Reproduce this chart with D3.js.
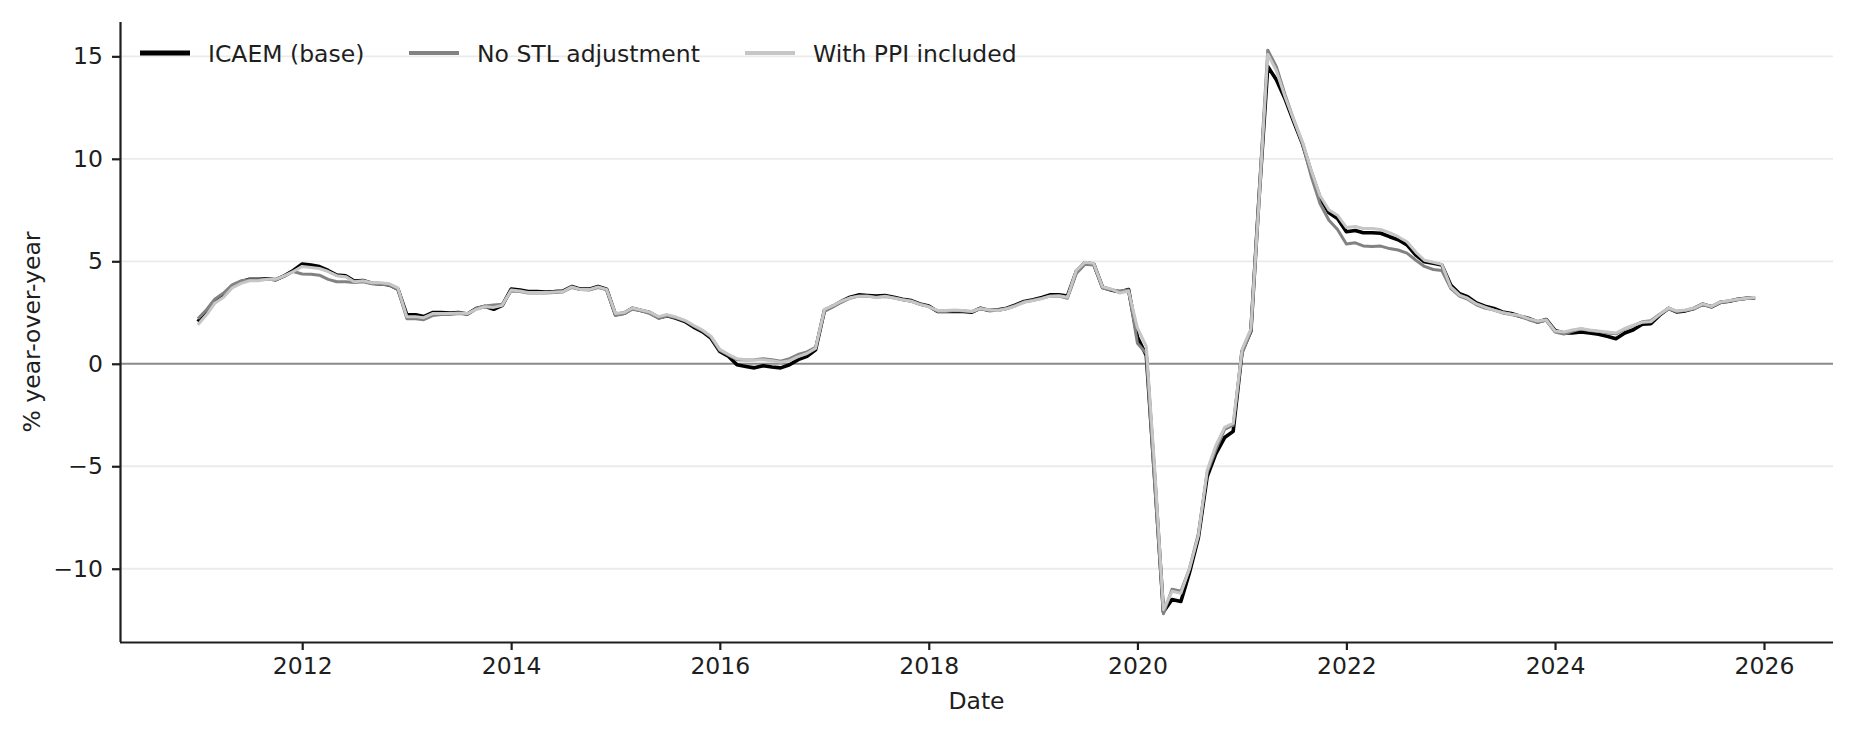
<!DOCTYPE html>
<html>
<head>
<meta charset="utf-8">
<script src="https://cdn.jsdelivr.net/npm/d3@7"></script>
<style>
  html, body { margin: 0; padding: 0; background: #fff; }
  svg { display: block; font-family: "DejaVu Sans", sans-serif; }
</style>
</head>
<body>
<svg id="chart" width="1854" height="730"></svg>
<script>
// Monthly series, Jan 2011 .. Dec 2025
const startYear = 2011;
const nMonths = 180;

const icaemBase = [
  2.05, 2.55, 3.05, 3.35, 3.8, 4.0, 4.12, 4.12, 4.15, 4.1, 4.3, 4.55,
  4.87, 4.82, 4.74, 4.55, 4.33, 4.29, 4.04, 4.06, 3.93, 3.9, 3.85, 3.64,
  2.39, 2.39, 2.3, 2.5, 2.5, 2.47, 2.5, 2.43, 2.7, 2.8, 2.66, 2.85,
  3.64, 3.6, 3.52, 3.52, 3.5, 3.52, 3.55, 3.77, 3.64, 3.64, 3.77, 3.64,
  2.4, 2.47, 2.71, 2.6, 2.5, 2.25, 2.34, 2.22, 2.06, 1.79, 1.57, 1.25,
  0.6, 0.36, -0.05, -0.13, -0.2, -0.1, -0.16, -0.2, -0.05, 0.2, 0.36, 0.68,
  2.6, 2.82, 3.04, 3.25, 3.36, 3.33, 3.3, 3.33, 3.25, 3.15, 3.08, 2.92,
  2.82, 2.55, 2.55, 2.55, 2.55, 2.52, 2.71, 2.6, 2.63, 2.71, 2.87, 3.04,
  3.12, 3.23, 3.36, 3.36, 3.3, 4.5, 4.93, 4.87, 3.73, 3.6, 3.5, 3.62,
  1.3, 0.4, -5.5, -12.1, -11.5, -11.6, -10.2, -8.5, -5.5, -4.4, -3.6, -3.3,
  0.6, 1.6, 8.0, 14.5, 13.86, 12.9, 11.8, 10.7, 9.3, 8.1, 7.37, 7.09,
  6.44, 6.5, 6.39, 6.39, 6.37, 6.2, 6.05, 5.8, 5.3, 4.98, 4.9, 4.82,
  3.84, 3.42, 3.27, 2.97, 2.81, 2.7, 2.53, 2.45, 2.32, 2.21, 2.04, 2.16,
  1.63, 1.5, 1.5, 1.55, 1.5, 1.44, 1.34, 1.22, 1.5, 1.66, 1.93, 1.96,
  2.37, 2.7, 2.53, 2.58, 2.7, 2.91, 2.78, 3.0, 3.05, 3.15, 3.2, 3.22
];

const noStl = [
  2.2, 2.65, 3.15, 3.45, 3.85, 4.05, 4.1, 4.1, 4.12, 4.1, 4.28, 4.5,
  4.38, 4.37, 4.32, 4.12, 4.0, 4.0, 3.96, 4.0, 3.9, 3.88, 3.85, 3.62,
  2.2, 2.2, 2.15, 2.35, 2.4, 2.4, 2.45, 2.42, 2.7, 2.82, 2.87, 2.9,
  3.55, 3.52, 3.45, 3.45, 3.45, 3.48, 3.5, 3.72, 3.62, 3.6, 3.72, 3.62,
  2.35, 2.45, 2.66, 2.58, 2.45, 2.22, 2.34, 2.24, 2.1, 1.85, 1.62, 1.3,
  0.65, 0.42, 0.2, 0.18, 0.2, 0.25, 0.2, 0.12, 0.25, 0.45, 0.58, 0.8,
  2.55, 2.78, 3.0, 3.2, 3.3, 3.3, 3.25, 3.28, 3.22, 3.12, 3.05, 2.9,
  2.8, 2.55, 2.55, 2.6, 2.58, 2.55, 2.68, 2.6, 2.63, 2.7, 2.85, 3.02,
  3.1, 3.2, 3.3, 3.3, 3.2, 4.4, 4.85, 4.82, 3.7, 3.6, 3.55, 3.6,
  1.0, 0.5, -5.8, -12.2, -11.0, -11.1, -10.0, -8.3, -5.3, -4.2, -3.2, -3.0,
  0.5, 1.6, 8.2, 15.3, 14.5, 13.1, 11.9, 10.7, 9.1, 7.8, 7.0, 6.55,
  5.84, 5.9, 5.75, 5.72, 5.74, 5.62, 5.55, 5.4, 5.05, 4.75, 4.6, 4.55,
  3.68, 3.3, 3.15, 2.88, 2.72, 2.62, 2.48, 2.4, 2.3, 2.15, 2.02, 2.12,
  1.55, 1.45, 1.58, 1.7, 1.62, 1.58, 1.5, 1.46, 1.7, 1.86, 2.05, 2.1,
  2.42, 2.68, 2.55, 2.6, 2.68, 2.88, 2.78, 2.98, 3.05, 3.12, 3.18, 3.2
];

const withPpi = [
  1.9, 2.4, 2.95, 3.25, 3.7, 3.92, 4.05, 4.05, 4.12, 4.12, 4.3, 4.5,
  4.75, 4.7, 4.65, 4.5, 4.3, 4.25, 4.0, 4.05, 3.95, 3.95, 3.9, 3.7,
  2.3, 2.3, 2.25, 2.45, 2.45, 2.45, 2.48, 2.45, 2.65, 2.78, 2.75, 2.85,
  3.6, 3.55, 3.48, 3.48, 3.48, 3.5, 3.52, 3.75, 3.62, 3.62, 3.75, 3.62,
  2.45, 2.5, 2.72, 2.62, 2.52, 2.3, 2.4, 2.28, 2.12, 1.88, 1.65, 1.35,
  0.7, 0.45, 0.25, 0.2, 0.18, 0.2, 0.15, 0.08, 0.15, 0.35, 0.5, 0.75,
  2.65, 2.85, 3.05, 3.22, 3.3, 3.3, 3.22, 3.3, 3.2, 3.12, 3.05, 2.9,
  2.78, 2.6, 2.6, 2.62, 2.6, 2.55, 2.7, 2.62, 2.6, 2.68, 2.82, 3.0,
  3.08, 3.18, 3.3, 3.32, 3.25, 4.55, 4.95, 4.9, 3.75, 3.65, 3.45, 3.55,
  1.75, 0.85, -5.0, -12.0, -11.1, -11.2, -10.0, -8.4, -5.2, -4.0, -3.1, -2.9,
  0.7, 1.7, 7.8, 15.1, 14.3, 13.0, 11.9, 10.8, 9.4, 8.2, 7.5, 7.25,
  6.65, 6.7, 6.6, 6.6, 6.55, 6.4, 6.2, 5.95, 5.45, 5.05, 4.95, 4.85,
  3.75, 3.35, 3.2, 2.92, 2.76, 2.62, 2.5, 2.42, 2.35, 2.2, 2.08, 2.15,
  1.6, 1.55, 1.65, 1.72, 1.65, 1.6, 1.55, 1.5, 1.72, 1.88, 2.02, 2.05,
  2.4, 2.72, 2.58, 2.62, 2.72, 2.92, 2.8, 3.02, 3.08, 3.15, 3.2, 3.25
];

const seriesNames = ["ICAEM (base)", "No STL adjustment", "With PPI included"];
const yTicks = [-10, -5, 0, 5, 10, 15];
const xTickYears = [2012, 2014, 2016, 2018, 2020, 2022, 2024, 2026];

// ---- layout ----
const W = 1854, H = 730;
const margin = { left: 120, right: 21, top: 22, bottom: 88 };
const plotL = margin.left, plotR = W - margin.right;
const plotT = margin.top, plotB = H - margin.bottom;

const dates = d3.range(nMonths).map(i => new Date(startYear, i, 1));
const allSeries = [icaemBase, noStl, withPpi];
const styles = [
  { color: "#000000", width: 3.6, legendWidth: 4.8 },
  { color: "#828282", width: 3.0, legendWidth: 3.8 },
  { color: "#c6c6c6", width: 3.0, legendWidth: 3.8 }
];

// matplotlib-like 5% margins
const tExt = d3.extent(dates).map(d => +d);
const tPad = (tExt[1] - tExt[0]) * 0.05;
const allVals = allSeries.flat();
const vExt = d3.extent(allVals);
const vPad = (vExt[1] - vExt[0]) * 0.05;

const x = d3.scaleTime()
  .domain([new Date(tExt[0] - tPad), new Date(tExt[1] + tPad)])
  .range([plotL, plotR]);
const y = d3.scaleLinear()
  .domain([vExt[0] - vPad, vExt[1] + vPad])
  .range([plotB, plotT]);

const svg = d3.select("#chart");
const textColor = "#1e1e1e";
const fontSize = 23.5;

// gridlines
svg.append("g")
  .selectAll("line")
  .data(yTicks.filter(t => t !== 0))
  .join("line")
  .attr("x1", plotL).attr("x2", plotR)
  .attr("y1", d => y(d)).attr("y2", d => y(d))
  .attr("stroke", "#ebebeb").attr("stroke-width", 1.8);

// zero line
svg.append("line")
  .attr("x1", plotL).attr("x2", plotR)
  .attr("y1", y(0)).attr("y2", y(0))
  .attr("stroke", "#8a8a8a").attr("stroke-width", 2);

// lines
const line = d3.line()
  .x((d, i) => x(dates[i]))
  .y(d => y(d));

allSeries.forEach((s, k) => {
  svg.append("path")
    .datum(s)
    .attr("d", line)
    .attr("fill", "none")
    .attr("stroke", styles[k].color)
    .attr("stroke-width", styles[k].width)
    .attr("stroke-linejoin", "round")
    .attr("stroke-linecap", "butt");
});

// axes
const xAxis = d3.axisBottom(x)
  .tickValues(xTickYears.map(yv => new Date(yv, 0, 1)))
  .tickFormat(d3.timeFormat("%Y"))
  .tickSize(8).tickPadding(7);
const gx = svg.append("g")
  .attr("transform", `translate(0,${plotB})`)
  .call(xAxis);

const yAxis = d3.axisLeft(y)
  .tickValues(yTicks)
  .tickFormat(d => d < 0 ? "\u2212" + Math.abs(d) : String(d))
  .tickSize(8).tickPadding(9);
const gy = svg.append("g")
  .attr("transform", `translate(${plotL},0)`)
  .call(yAxis);

[gx, gy].forEach(g => {
  g.select(".domain").attr("stroke", textColor).attr("stroke-width", 2.2);
  g.selectAll(".tick line").attr("stroke", textColor).attr("stroke-width", 2.2);
  g.selectAll(".tick text")
    .attr("fill", textColor)
    .style("font-size", fontSize + "px")
    .style("font-family", "'DejaVu Sans', sans-serif");
});
gx.select(".domain").attr("d", `M${plotL},0.5H${plotR}`);
gy.select(".domain").attr("d", `M0.5,${plotB}V${plotT}`);

// axis labels
svg.append("text")
  .attr("x", (plotL + plotR) / 2)
  .attr("y", 709)
  .attr("text-anchor", "middle")
  .attr("fill", textColor)
  .style("font-size", fontSize + "px")
  .text("Date");

svg.append("text")
  .attr("transform", `translate(40,${(plotT + plotB) / 2}) rotate(-90)`)
  .attr("text-anchor", "middle")
  .attr("fill", textColor)
  .style("font-size", fontSize + "px")
  .text("% year-over-year");

// legend
const legendX = [140, 409, 745];
const legendY = 53;
const leg = svg.append("g");
seriesNames.forEach((name, k) => {
  leg.append("line")
    .attr("x1", legendX[k]).attr("x2", legendX[k] + 50)
    .attr("y1", legendY).attr("y2", legendY)
    .attr("stroke", styles[k].color)
    .attr("stroke-width", styles[k].legendWidth);
  leg.append("text")
    .attr("x", legendX[k] + 68)
    .attr("y", legendY + 8.5)
    .attr("fill", textColor)
    .style("font-size", fontSize + "px")
    .text(name);
});
</script>
</body>
</html>
